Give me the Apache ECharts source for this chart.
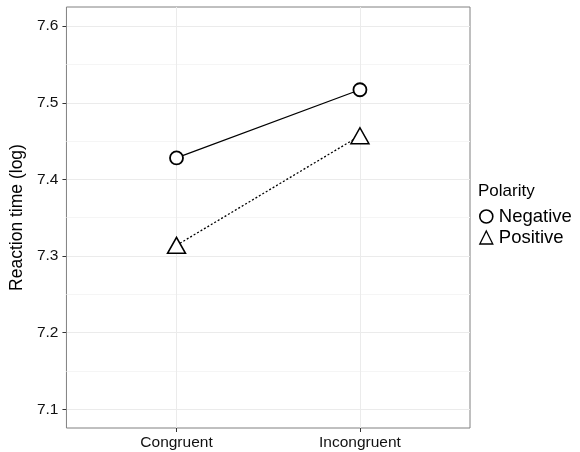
<!DOCTYPE html>
<html>
<head>
<meta charset="utf-8">
<script src="https://cdn.jsdelivr.net/npm/echarts@6/dist/echarts.min.js"></script>
<style>
html,body{margin:0;padding:0;background:#fff;}
#container{width:580px;height:452px;}
</style>
</head>
<body>
<div id="container"></div>
<script>
var categories = ['Congruent', 'Incongruent'];
var negativeValues = [7.428, 7.517];
var positiveValues = [7.314, 7.457];
var yTicks = [7.1, 7.2, 7.3, 7.4, 7.5, 7.6];
var yMinor = [7.15, 7.25, 7.35, 7.45, 7.55];

// x positions 1..n, like a discrete axis with padding
function toPoints(vals){
	var out = [];
	for (var i = 0; i < vals.length; i++) {
		out.push([i + 1, vals[i]]);
	}
	return out;
}
var xPos = categories.map(function (c, i){ return i + 1; });

var font = 'Liberation Sans, Arial, sans-serif';
var myChart = echarts.init(document.getElementById('container'));
var option = {
	animation: false,
	backgroundColor: '#fff',
	textStyle: {fontFamily: font},
	title: {
		text: 'Polarity',
		left: 478,
		top: 183,
		padding: 0,
		textStyle: {fontSize: 17, fontWeight: 'normal', color: '#000', fontFamily: font}
	},
	legend: {
		orient: 'vertical',
		left: 479,
		top: 207,
		padding: 0,
		itemWidth: 13,
		itemHeight: 13,
		itemGap: 2,
		textStyle: {fontSize: 18.5, lineHeight: 19, color: '#000', fontFamily: font, padding: [0, 0, 0, 1]},
		data: [
			{name: 'Negative', icon: 'circle', itemStyle: {color: '#fff', borderColor: '#000', borderWidth: 1.6}},
			{name: 'Positive', icon: 'triangle', itemStyle: {color: '#fff', borderColor: '#000', borderWidth: 1.3}}
		]
	},
	grid: {
		left: 63, top: 7, right: 110, bottom: 24,
		show: true, borderColor: '#808080', borderWidth: 1, backgroundColor: 'transparent'
	},
	xAxis: {
		type: 'value',
		min: 0.4,
		max: 2.6,
		axisLine: {show: false},
		axisTick: {show: true, length: 4, customValues: xPos, lineStyle: {color: '#333'}},
		axisLabel: {
			customValues: xPos, margin: 7, fontSize: 15.5, color: '#111', fontFamily: font,
			formatter: function (v){ return categories[Math.round(v) - 1]; }
		},
		splitLine: {show: true, lineStyle: {color: '#ebebeb', width: 1}}
	},
	yAxis: [{
		type: 'value',
		min: 7.0756,
		max: 7.625,
		name: 'Reaction time (log)',
		nameLocation: 'middle',
		nameGap: 40,
		nameTextStyle: {fontSize: 17.5, color: '#000', fontFamily: font},
		axisLine: {show: false},
		axisTick: {show: true, length: 4, customValues: yTicks, lineStyle: {color: '#333'}},
		axisLabel: {customValues: yTicks, margin: 8, fontSize: 15.5, color: '#111', fontFamily: font,
			formatter: function (v){ return v.toFixed(1); }},
		splitLine: {show: true, lineStyle: {color: '#ebebeb', width: 1}}
	}, {
		type: 'value',
		position: 'left',
		min: 7.0756,
		max: 7.625,
		axisLine: {show: false},
		axisTick: {show: false, customValues: yMinor},
		axisLabel: {show: false, customValues: yMinor},
		splitLine: {show: true, lineStyle: {color: '#f5f5f5', width: 1}}
	}],
	series: [{
		name: 'Negative',
		type: 'line',
		data: toPoints(negativeValues),
		symbol: 'circle',
		symbolSize: 13,
		z: 3,
		lineStyle: {color: '#000', width: 1.3},
		itemStyle: {color: '#fff', borderColor: '#000', borderWidth: 1.8}
	}, {
		name: 'Positive',
		type: 'line',
		data: toPoints(positiveValues),
		symbol: 'triangle',
		symbolSize: [18, 16],
		z: 3,
		lineStyle: {color: '#000', width: 1.3, type: [2, 2]},
		itemStyle: {color: '#fff', borderColor: '#000', borderWidth: 1.5}
	}]
};
myChart.setOption(option, true);
</script>
</body>
</html>
